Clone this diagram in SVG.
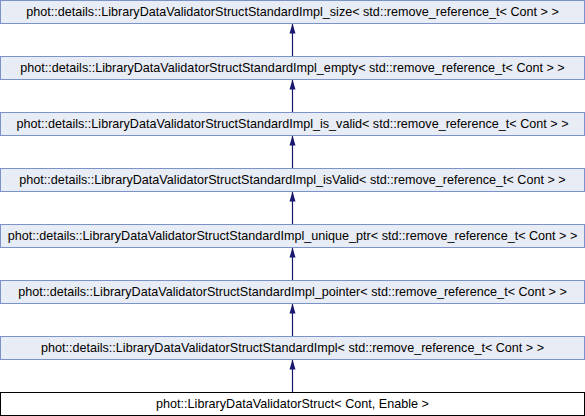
<svg xmlns="http://www.w3.org/2000/svg" width="585" height="416" viewBox="0 0 585 416">
<style>
.n rect{fill:#e8ecf5;stroke:#7b93c8;stroke-width:1}
.n.cur rect{fill:#ffffff;stroke:#000000}
text{font-family:"Liberation Sans",Arial,sans-serif;font-size:12.6px;fill:#000;text-anchor:middle}
.e line{stroke:#191970;stroke-width:1.2}
</style>
<defs>
<marker id="ah" viewBox="0 0 10 10" refX="10" refY="5" markerWidth="10" markerHeight="10" markerUnits="userSpaceOnUse" orient="auto">
<path d="M0,2 L10,5 L0,8 Z" fill="#191970"/>
</marker>
</defs>
<g id="connectors" class="e">
<line x1="292.5" y1="56.5" x2="292.5" y2="23.5" marker-end="url(#ah)"/>
<line x1="292.5" y1="112.5" x2="292.5" y2="79.5" marker-end="url(#ah)"/>
<line x1="292.5" y1="168.5" x2="292.5" y2="135.5" marker-end="url(#ah)"/>
<line x1="292.5" y1="224.5" x2="292.5" y2="191.5" marker-end="url(#ah)"/>
<line x1="292.5" y1="280.5" x2="292.5" y2="247.5" marker-end="url(#ah)"/>
<line x1="292.5" y1="336.5" x2="292.5" y2="303.5" marker-end="url(#ah)"/>
<line x1="292.5" y1="392.5" x2="292.5" y2="359.5" marker-end="url(#ah)"/>
</g>
<g id="n_size" class="n"><rect x="0.5" y="0.5" width="584" height="23"/><text x="292.5" y="16">phot::details::LibraryDataValidatorStructStandardImpl_size&lt; std::remove_reference_t&lt; Cont &gt; &gt;</text></g>
<g id="n_empty" class="n"><rect x="0.5" y="56.5" width="584" height="23"/><text x="292.5" y="72">phot::details::LibraryDataValidatorStructStandardImpl_empty&lt; std::remove_reference_t&lt; Cont &gt; &gt;</text></g>
<g id="n_is_valid" class="n"><rect x="0.5" y="112.5" width="584" height="23"/><text x="292.5" y="128">phot::details::LibraryDataValidatorStructStandardImpl_is_valid&lt; std::remove_reference_t&lt; Cont &gt; &gt;</text></g>
<g id="n_isValid" class="n"><rect x="0.5" y="168.5" width="584" height="23"/><text x="292.5" y="184">phot::details::LibraryDataValidatorStructStandardImpl_isValid&lt; std::remove_reference_t&lt; Cont &gt; &gt;</text></g>
<g id="n_unique_ptr" class="n"><rect x="0.5" y="224.5" width="584" height="23"/><text x="292.5" y="240">phot::details::LibraryDataValidatorStructStandardImpl_unique_ptr&lt; std::remove_reference_t&lt; Cont &gt; &gt;</text></g>
<g id="n_pointer" class="n"><rect x="0.5" y="280.5" width="584" height="23"/><text x="292.5" y="296">phot::details::LibraryDataValidatorStructStandardImpl_pointer&lt; std::remove_reference_t&lt; Cont &gt; &gt;</text></g>
<g id="n_impl" class="n"><rect x="0.5" y="336.5" width="584" height="23"/><text x="292.5" y="352">phot::details::LibraryDataValidatorStructStandardImpl&lt; std::remove_reference_t&lt; Cont &gt; &gt;</text></g>
<g id="n_struct" class="n cur"><rect x="0.5" y="392.5" width="584" height="23"/><text x="292.5" y="408">phot::LibraryDataValidatorStruct&lt; Cont, Enable &gt;</text></g>
</svg>
